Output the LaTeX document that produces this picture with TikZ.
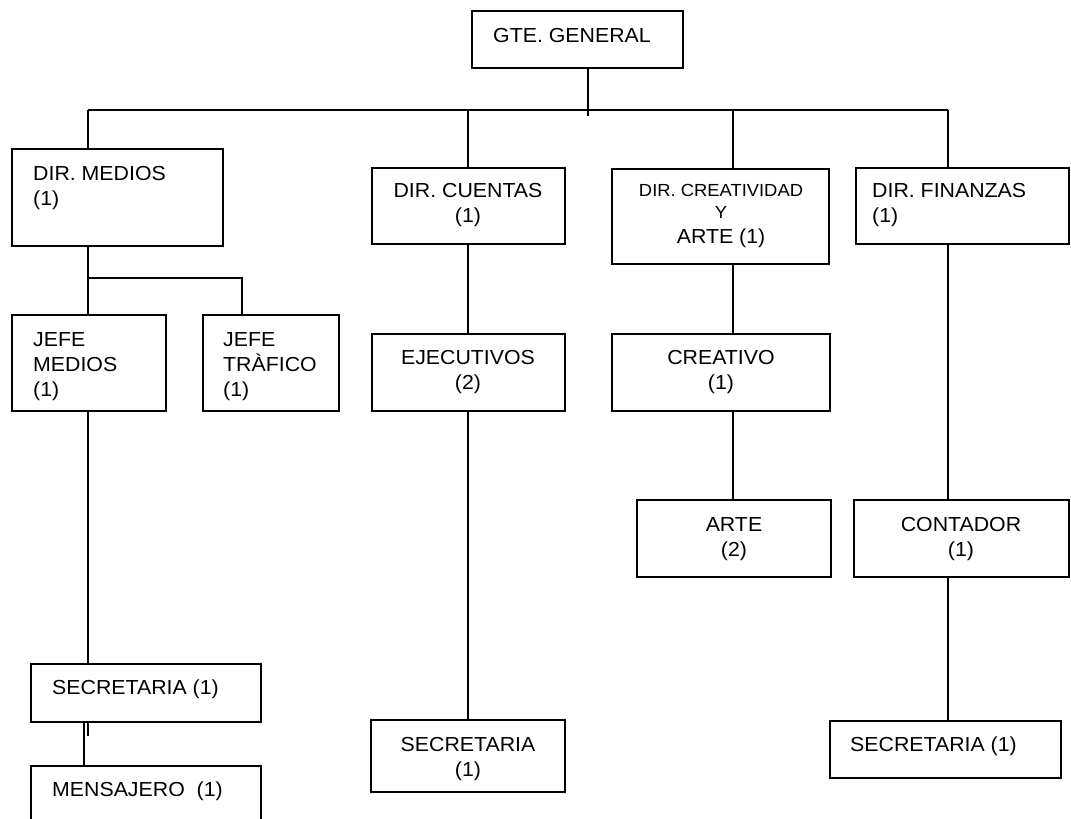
\documentclass[tikz,border=0pt]{standalone}
\usepackage{fontspec}
\setmainfont{Liberation Sans}[FakeStretch=1.05]
% box given by its corners: name, x1, y1, x2, y2
\newcommand\orgbox[5]{%
  \node[box, minimum width={#4-#2}, minimum height={#5-#3}] (#1)
    at ({(#2+#4)/2},{(#3+#5)/2}) {};}
\begin{document}
\begin{tikzpicture}[x=1pt, y=-1pt,
  box/.style={draw, line width=1.6pt, inner sep=0pt, rectangle},
  wire/.style={line width=1.6pt},
  lbl/.style={inner sep=0pt, font=\fontsize{20.3}{25}\selectfont},
  lblsm/.style={inner sep=0pt, font=\fontsize{17.5}{22}\selectfont},
  tl/.style={lbl, anchor=north west, align=left},
  tc/.style={lbl, anchor=north, align=center}]
\useasboundingbox (0,0) rectangle (1071,819);

% boxes
\orgbox{gte}{472}{11}{683}{68}
\orgbox{dmed}{12}{149}{223}{246}
\orgbox{dcue}{372}{168}{565}{244}
\orgbox{dcre}{612}{169}{829}{264}
\orgbox{dfin}{856}{168}{1069}{244}
\orgbox{jmed}{12}{315}{166}{411}
\orgbox{jtra}{203}{315}{339}{411}
\orgbox{ejec}{372}{334}{565}{411}
\orgbox{crea}{612}{334}{830}{411}
\orgbox{arte}{637}{500}{831}{577}
\orgbox{cont}{854}{500}{1069}{577}
\orgbox{seca}{31}{664}{261}{722}
\orgbox{mens}{31}{766}{261}{830}
\orgbox{secb}{371}{720}{565}{792}
\orgbox{secc}{830}{721}{1061}{778}

% labels
\node[tl] (tgte) at (493,28) {GTE. GENERAL};
\node[tl] (tdmed) at (33,166) {DIR. MEDIOS\\(1)};
\node[tc] (tdcue) at (468,183) {DIR. CUENTAS\\(1)};
\node[lblsm, anchor=north, align=center] (tdcre) at (721,184) {DIR. CREATIVIDAD\\Y};
\node[tc] (tdcre2) at (721,228.5) {ARTE (1)};
\node[tl] (tdfin) at (872,183) {DIR. FINANZAS\\(1)};
\node[tl] (tjmed) at (33,332) {JEFE\\MEDIOS\\(1)};
\node[tl] (tjtra) at (223,332) {JEFE\\TRÀFICO\\(1)};
\node[tc] (tejec) at (468,350) {EJECUTIVOS\\(2)};
\node[tc] (tcrea) at (721,350) {CREATIVO\\(1)};
\node[tc] (tarte) at (734,517) {ARTE\\(2)};
\node[tc] (tcont) at (961,517) {CONTADOR\\(1)};
\node[tl] (tseca) at (52,680) {SECRETARIA (1)};
\node[tl] (tmens) at (52,782) {MENSAJERO\ \ (1)};
\node[tc] (tsecb) at (468,737) {SECRETARIA\\(1)};
\node[tl] (tsecc) at (850,737) {SECRETARIA (1)};

% connector points
\coordinate (busL) at (88,110);
\coordinate (busR) at (948,110);
\coordinate (stem) at (588,116);
\coordinate (xcue) at (468,0);
\coordinate (xcre) at (733,0);
\coordinate (xfin) at (948,0);
\coordinate (split) at (88,278);
\coordinate (splitR) at (242,278);
\coordinate (xmens) at (84,0);
\coordinate (tick) at (88,736);

% connectors
\draw[wire] (stem |- gte.south) -- (stem);
\draw[wire] (busL) -- (busR);
\draw[wire] (busL) -- (busL |- dmed.north);
\draw[wire] (xcue |- busL) -- (xcue |- dcue.north);
\draw[wire] (xcre |- busL) -- (xcre |- dcre.north);
\draw[wire] (busR) -- (xfin |- dfin.north);

\draw[wire] (split |- dmed.south) -- (split |- jmed.north);
\draw[wire] (split) -- (splitR) -- (splitR |- jtra.north);
\draw[wire] (split |- jmed.south) -- (split |- seca.north);
\draw[wire] (xmens |- seca.south) -- (xmens |- mens.north);
\draw[wire] (tick |- seca.south) -- (tick);

\draw[wire] (xcue |- dcue.south) -- (xcue |- ejec.north);
\draw[wire] (xcue |- ejec.south) -- (xcue |- secb.north);
\draw[wire] (xcre |- dcre.south) -- (xcre |- crea.north);
\draw[wire] (xcre |- crea.south) -- (xcre |- arte.north);
\draw[wire] (xfin |- dfin.south) -- (xfin |- cont.north);
\draw[wire] (xfin |- cont.south) -- (xfin |- secc.north);
\end{tikzpicture}
\end{document}
